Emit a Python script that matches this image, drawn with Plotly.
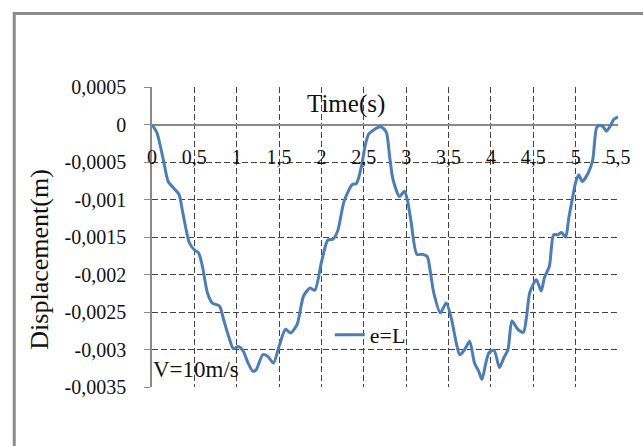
import plotly.graph_objects as go

# ---- data ----
time_s = [0.0, 0.058, 0.134, 0.191, 0.249, 0.318, 0.364, 0.442, 0.499, 0.549,
          0.595, 0.653, 0.711, 0.796, 0.845, 0.903, 0.961, 1.018, 1.076, 1.134,
          1.191, 1.230, 1.307, 1.364, 1.434, 1.499, 1.576, 1.633, 1.711, 1.788,
          1.864, 1.922, 1.999, 2.076, 2.134, 2.191, 2.268, 2.364, 2.411, 2.434,
          2.480, 2.518, 2.556, 2.595, 2.633, 2.691, 2.729, 2.768, 2.806, 2.844,
          2.922, 2.979, 3.017, 3.057, 3.126, 3.190, 3.248, 3.287, 3.325, 3.403,
          3.472, 3.536, 3.587, 3.633, 3.691, 3.749, 3.806, 3.856, 3.894, 3.940,
          3.979, 4.037, 4.101, 4.152, 4.202, 4.248, 4.317, 4.383, 4.421, 4.459,
          4.536, 4.594, 4.632, 4.690, 4.740, 4.787, 4.833, 4.882, 4.920, 4.960,
          4.998, 5.036, 5.079, 5.151, 5.202, 5.248, 5.286, 5.324, 5.363, 5.409,
          5.451, 5.500]
displacement_m = [0.0, -0.00011, -0.00047, -0.00076, -0.00084, -0.00093, -0.00118, -0.00158, -0.00167, -0.00171,
                  -0.00189, -0.00224, -0.00238, -0.00242, -0.00260, -0.00282, -0.00299, -0.00296, -0.00302, -0.00318,
                  -0.00329, -0.00327, -0.00307, -0.00309, -0.00318, -0.00296, -0.00273, -0.00278, -0.00267, -0.00229,
                  -0.00218, -0.00221, -0.00184, -0.00154, -0.00153, -0.00142, -0.00102, -0.00080, -0.00079, -0.00073,
                  -0.00051, -0.00027, -0.00013, -0.00009, -0.00006, -0.00003, -0.00005, -0.00011, -0.00044, -0.00073,
                  -0.00096, -0.00089, -0.00102, -0.00129, -0.00173, -0.00173, -0.00176, -0.00198, -0.00224, -0.00251,
                  -0.00238, -0.00260, -0.00289, -0.00307, -0.00300, -0.00289, -0.00318, -0.00329, -0.00340, -0.00318,
                  -0.00304, -0.00301, -0.00324, -0.00311, -0.00300, -0.00262, -0.00273, -0.00277, -0.00256, -0.00224,
                  -0.00207, -0.00222, -0.00204, -0.00189, -0.00147, -0.00147, -0.00144, -0.00150, -0.00124, -0.00100,
                  -0.00078, -0.00067, -0.00076, -0.00064, -0.00047, -0.00004, -0.00001, -0.00003, -0.00009, -0.00002,
                  0.00007, 0.00010]

x_tick_vals = [0, 0.5, 1, 1.5, 2, 2.5, 3, 3.5, 4, 4.5, 5, 5.5]
x_tick_text = ["0", "0,5", "1", "1,5", "2", "2,5", "3", "3,5", "4", "4,5", "5", "5,5"]
y_tick_vals = [0.0005, 0, -0.0005, -0.001, -0.0015, -0.002, -0.0025, -0.003, -0.0035]
y_tick_text = ["0,0005", "0", "-0,0005", "-0,001", "-0,0015", "-0,002", "-0,0025", "-0,003", "-0,0035"]

series_name = "e=L"
x_title = "Time(s)"
y_title = "Displacement(m)"
note_text = "V=10m/s"

FONT = "Liberation Serif"
GRID = "#444444"
AXIS = "#8a8a8a"

# plot area geometry in pixels
W, H = 643, 446
L, R, T, B = 152, 14, 87, 59
pw, ph = W - L - R, H - T - B

def px_to_paper_x(px):
    return (px - L) / pw

def py_to_paper_y(py):
    return (H - B - py) / ph

fig = go.Figure()
fig.add_trace(go.Scatter(
    x=time_s, y=displacement_m, mode="lines", name=series_name,
    line=dict(color="#4a7ebb", width=3, shape="spline", smoothing=0.7),
))

fig.update_layout(
    width=W, height=H,
    margin=dict(l=L, r=R, t=T, b=B, pad=0),
    paper_bgcolor="white", plot_bgcolor="white",
    font=dict(family=FONT, color="#111111", size=20),
    showlegend=True,
    legend=dict(x=px_to_paper_x(334), y=py_to_paper_y(335), xanchor="left", yanchor="middle",
                bgcolor="rgba(0,0,0,0)", font=dict(family=FONT, size=22, color="#111111"),
                itemwidth=30),
    xaxis=dict(
        range=[0, 5.5], tickvals=x_tick_vals, ticktext=x_tick_text,
        showgrid=True, gridcolor=GRID, gridwidth=1, griddash="6px,3px",
        zeroline=False, showline=False, ticks="",
        anchor="free", position=py_to_paper_y(143),
        tickfont=dict(family=FONT, size=20, color="#111111"),
    ),
    yaxis=dict(
        range=[-0.0035, 0.0005], tickvals=y_tick_vals, ticktext=y_tick_text,
        showgrid=True, gridcolor=GRID, gridwidth=1, griddash="6px,3px",
        zeroline=True, zerolinecolor=AXIS, zerolinewidth=1.5,
        showline=True, linecolor=AXIS, linewidth=1.5,
        ticks="outside", ticklen=6, tickcolor=AXIS, ticklabelstandoff=14,
        tickfont=dict(family=FONT, size=20, color="#111111"),
    ),
    shapes=[
        dict(type="rect", xref="paper", yref="paper",
             x0=px_to_paper_x(11), y0=py_to_paper_y(470), x1=px_to_paper_x(670), y1=py_to_paper_y(13.5),
             line=dict(color="#8c8c8c", width=3), fillcolor="rgba(0,0,0,0)", layer="above"),
    ],
    annotations=[
        dict(text=x_title, xref="paper", yref="paper", x=px_to_paper_x(351), y=py_to_paper_y(104),
             xanchor="center", yanchor="middle", showarrow=False,
             font=dict(family=FONT, size=25, color="#111111")),
        dict(text=y_title, xref="paper", yref="paper", x=px_to_paper_x(36), y=py_to_paper_y(259),
             xanchor="center", yanchor="middle", showarrow=False, textangle=-90,
             font=dict(family=FONT, size=26, color="#111111")),
        dict(text=note_text, xref="paper", yref="paper", x=px_to_paper_x(151), y=py_to_paper_y(369),
             xanchor="left", yanchor="middle", showarrow=False,
             font=dict(family=FONT, size=23, color="#111111")),
    ],
)

fig.write_html("out.html")
